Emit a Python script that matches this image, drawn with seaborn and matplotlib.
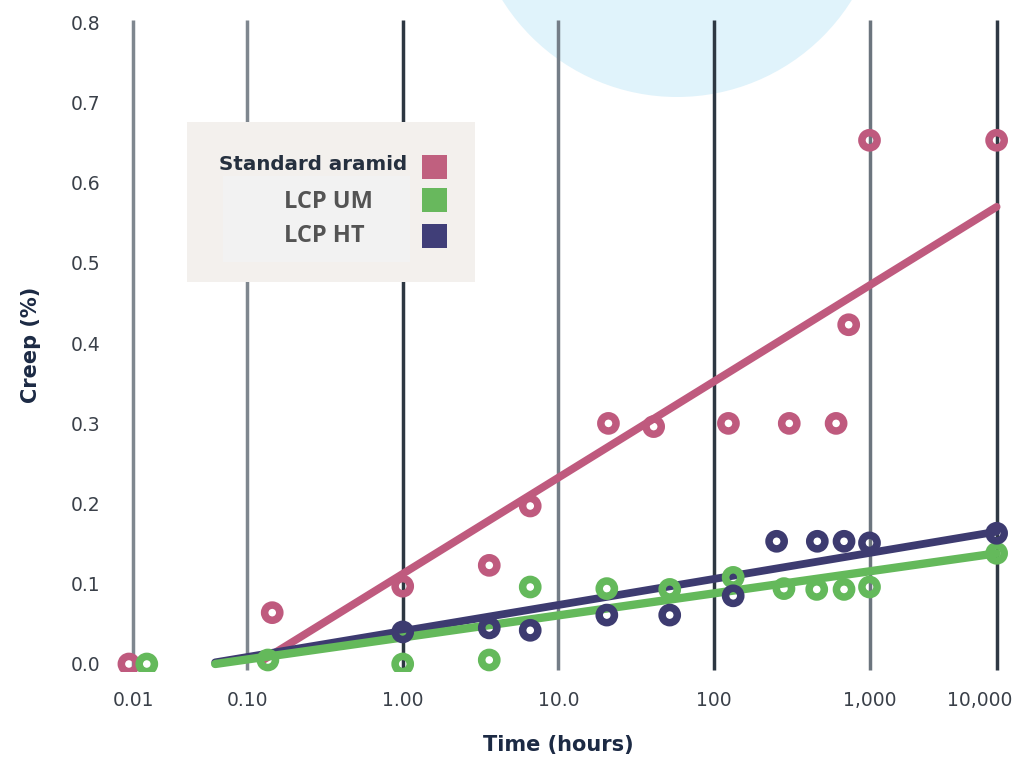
import numpy as np
import pandas as pd
import matplotlib
matplotlib.use("Agg")
import matplotlib.pyplot as plt
import matplotlib.transforms as mtransforms
from matplotlib.patches import Ellipse, Rectangle
from matplotlib.ticker import FixedLocator, FixedFormatter, NullLocator
import seaborn as sns

# ---------------------------------------------------------------
# Creep (%) measured over time (hours)
# ---------------------------------------------------------------
series_names = ["Standard aramid", "LCP UM", "LCP HT"]

aramid_hours = [0.0092, 0.145, 1.0, 3.6, 6.6, 21, 41, 124, 305, 610, 735, 1000, 10000]
aramid_creep = [0.0, 0.064, 0.097, 0.123, 0.197, 0.300, 0.296, 0.300, 0.300, 0.300, 0.423, 0.653, 0.653]

um_hours = [0.0132, 0.136, 1.0, 3.6, 6.6, 20.5, 52, 133, 282, 458, 686, 1000, 10000]
um_creep = [0.0, 0.005, 0.0, 0.005, 0.096, 0.094, 0.093, 0.108, 0.094, 0.093, 0.093, 0.096, 0.138]

ht_hours = [1.0, 3.6, 6.6, 20.5, 52, 133, 253, 462, 686, 1000, 10000]
ht_creep = [0.040, 0.045, 0.042, 0.061, 0.061, 0.085, 0.153, 0.153, 0.153, 0.151, 0.163]

# fitted trend lines (start and end of each fit)
aramid_trend_hours = [0.127, 10000]
aramid_trend_creep = [0.005, 0.570]
um_trend_hours = [0.0525, 10000]
um_trend_creep = [0.0, 0.138]
ht_trend_hours = [0.0525, 10000]
ht_trend_creep = [0.002, 0.165]

time_ticks = [0.01, 0.1, 1, 10, 100, 1000, 10000]
time_tick_labels = ["0.01", "0.10", "1.00", "10.0", "100", "1,000", "10,000"]
creep_ticks = [0.0, 0.1, 0.2, 0.3, 0.4, 0.5, 0.6, 0.7, 0.8]
creep_tick_labels = ["0.0", "0.1", "0.2", "0.3", "0.4", "0.5", "0.6", "0.7", "0.8"]

palette = {"Standard aramid": "#bf5a7e", "LCP UM": "#64b95b", "LCP HT": "#3d3b70"}
swatch_colors = {"Standard aramid": "#c0607f", "LCP UM": "#68b85d", "LCP HT": "#403e78"}

points = pd.concat([
    pd.DataFrame({"hours": aramid_hours, "creep": aramid_creep, "series": "Standard aramid"}),
    pd.DataFrame({"hours": um_hours, "creep": um_creep, "series": "LCP UM"}),
    pd.DataFrame({"hours": ht_hours, "creep": ht_creep, "series": "LCP HT"}),
], ignore_index=True)

trends = pd.concat([
    pd.DataFrame({"hours": aramid_trend_hours, "creep": aramid_trend_creep, "series": "Standard aramid"}),
    pd.DataFrame({"hours": ht_trend_hours, "creep": ht_trend_creep, "series": "LCP HT"}),
    pd.DataFrame({"hours": um_trend_hours, "creep": um_trend_creep, "series": "LCP UM"}),
], ignore_index=True)

# ---------------------------------------------------------------
# Time axis: logarithmic decades, with the outermost decades compressed
# ---------------------------------------------------------------
LOG_ANCHORS = np.array([-3.0, -2.0, -1.0, 0.0, 1.0, 2.0, 3.0, 4.0, 5.0])
POS_ANCHORS = np.array([-2.466, -1.733, -1.0, 0.0, 1.0, 2.0, 3.0, 3.817, 4.634])


def time_forward(x):
    x = np.asarray(x, dtype=float)
    return np.interp(np.log10(np.clip(x, 1e-9, None)), LOG_ANCHORS, POS_ANCHORS)


def time_inverse(p):
    p = np.asarray(p, dtype=float)
    return 10.0 ** np.interp(p, POS_ANCHORS, LOG_ANCHORS)


sns.set_theme(style="white")
plt.rcParams["font.family"] = ["DejaVu Sans"]

W, H = 1023, 760
fig = plt.figure(figsize=(W / 100, H / 100), dpi=100)
fig.patch.set_facecolor("white")


def fx(px):
    return px / W


def fy(py):
    return 1 - py / H


# decorative pale-blue disc at the top edge
fig.patches.append(Ellipse((fx(677), fy(-109)), 2 * 206 / W, 2 * 206 / H,
                           transform=fig.transFigure, facecolor="#e0f3fb",
                           edgecolor="none", zorder=-5))

ax_left, ax_right, ax_top, ax_bottom = 110, 1018, 15, 672
ax = fig.add_axes([fx(ax_left), fy(ax_bottom), (ax_right - ax_left) / W,
                   (ax_bottom - ax_top) / H])
ax.patch.set_visible(False)

ax.set_xscale("function", functions=(time_forward, time_inverse))
ax.set_xlim(time_inverse((ax_left - 402.7) / 155.6), time_inverse((ax_right - 402.7) / 155.6))
ax.set_ylim(-0.00998, 0.8092)

# vertical decade rules
rule_colors = ["#7f878f", "#7f878f", "#2d3742", "#747d87", "#2d3742", "#6c757e", "#2f3944"]
ax.vlines(time_ticks, -0.0075, 0.803, colors=rule_colors, linewidth=2.5, zorder=1)

# trend lines
for name, grp in trends.groupby("series", sort=False):
    sns.lineplot(data=grp, x="hours", y="creep", color=palette[name], ax=ax,
                 linewidth=6.0 if name == "LCP UM" else 5.6, sort=False,
                 estimator=None, solid_capstyle="round", zorder=2, legend=False)

# measured points: open rings
for name, grp in points.groupby("series", sort=False):
    sns.scatterplot(data=grp, x="hours", y="creep", ax=ax, s=120, marker="o",
                    facecolors="none", edgecolor=palette[name], linewidth=5.4,
                    zorder=3, legend=False)

ax.xaxis.set_major_locator(FixedLocator(time_ticks))
ax.xaxis.set_major_formatter(FixedFormatter(time_tick_labels))
ax.xaxis.set_minor_locator(NullLocator())
ax.set_yticks(creep_ticks)
ax.set_yticklabels(creep_tick_labels)
ax.tick_params(axis="both", length=0, labelsize=13.5, labelcolor="#3a4049")
ax.tick_params(axis="x", pad=13.5)
ax.tick_params(axis="y", pad=7)
for s in ax.spines.values():
    s.set_visible(False)
ax.grid(False)

ax.set_xlabel("Time (hours)", fontsize=15, fontweight="bold", color="#1c2a44")
ax.set_ylabel("Creep (%)", fontsize=15, fontweight="bold", color="#1c2a44")
ax.xaxis.set_label_coords((558 - ax_left) / (ax_right - ax_left),
                          (ax_bottom - 745) / (ax_bottom - ax_top))
ax.xaxis.label.set_verticalalignment("center")
ax.yaxis.set_label_coords((31 - ax_left) / (ax_right - ax_left),
                          (ax_bottom - 345) / (ax_bottom - ax_top))
ax.yaxis.label.set_verticalalignment("center")

# the last time label sits a little left of its rule so it stays inside the frame
last_label = ax.xaxis.get_major_ticks()[-1].label1
last_label.set_transform(last_label.get_transform()
                         + mtransforms.ScaledTranslation(-0.17, 0, fig.dpi_scale_trans))

# ---------------------------------------------------------------
# Legend panel with swatches on the right
# ---------------------------------------------------------------
fig.patches.append(Rectangle((fx(187), fy(282)), (475 - 187) / W, (282 - 122) / H,
                             transform=fig.transFigure, facecolor="#f3f0ed",
                             edgecolor="none", zorder=5))
fig.patches.append(Rectangle((fx(223), fy(262)), (410 - 223) / W, (262 - 176) / H,
                             transform=fig.transFigure, facecolor="#f2f2f2",
                             edgecolor="none", zorder=6))

swatch_rows = {"Standard aramid": 166.5, "LCP UM": 200, "LCP HT": 235.5}
for name in series_names:
    yc = swatch_rows[name]
    fig.patches.append(Rectangle((fx(422), fy(yc + 12)), 25 / W, 24 / H,
                                 transform=fig.transFigure,
                                 facecolor=swatch_colors[name], edgecolor="none",
                                 zorder=7))

fig.text(fx(407), fy(165), series_names[0], ha="right", va="center", fontsize=14.3,
         fontweight="bold", color="#25303f", zorder=8)
fig.text(fx(284), fy(202), series_names[1], ha="left", va="center", fontsize=17,
         fontweight="bold", family=["Open Sans", "DejaVu Sans"], color="#545454", zorder=8)
fig.text(fx(284), fy(236), series_names[2], ha="left", va="center", fontsize=17,
         fontweight="bold", family=["Open Sans", "DejaVu Sans"], color="#545454", zorder=8)

fig.savefig("out.png", dpi=100)
